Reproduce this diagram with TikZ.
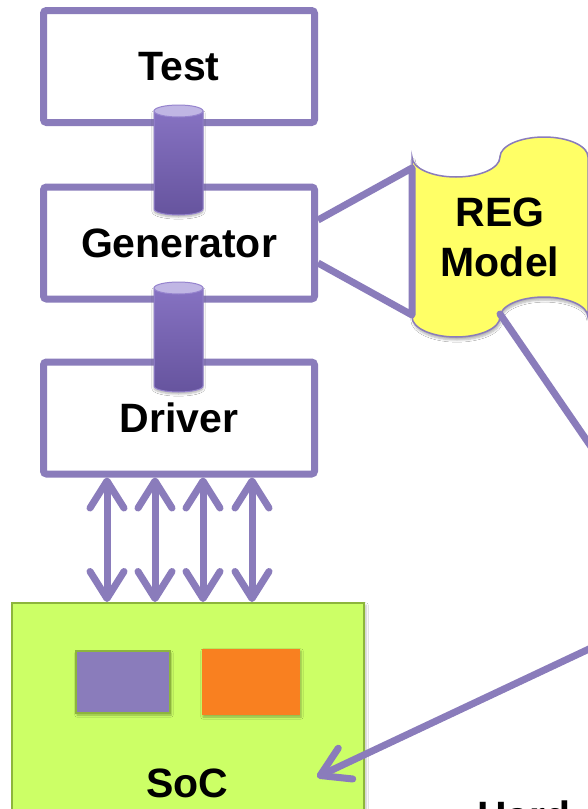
\documentclass[tikz,border=0pt]{standalone}
\usepackage{fontspec}
\setmainfont{Liberation Sans}
\usetikzlibrary{arrows.meta,shadows,shadows.blur}

\definecolor{vpurple}{RGB}{138,124,187}
\definecolor{pipetop}{RGB}{134,114,194}
\definecolor{pipebot}{RGB}{102,84,158}
\definecolor{pipeedge}{RGB}{150,132,206}
\definecolor{pipecap}{RGB}{192,182,228}
\definecolor{regyellow}{RGB}{255,255,102}
\definecolor{socgreen}{RGB}{204,255,102}
\definecolor{socedge}{RGB}{141,181,60}
\definecolor{corepurple}{RGB}{138,124,187}
\definecolor{iporange}{RGB}{249,128,32}

\newcommand\bigfont{\bfseries\fontsize{41pt}{50pt}\selectfont}

% a data pipe between two blocks: x centre, top y, bottom y (y measured downward)
\newcommand\linkpipe[3]{%
  \shade[top color=pipetop, bottom color=pipebot, draw=pipeedge, line width=1pt,
         blur shadow={shadow xshift=0pt, shadow yshift=-2pt, shadow opacity=30, shadow blur steps=6}]
    ({#1-24.5},{-(#2+6)}) -- ({#1-24.5},{-(#3-6)})
    arc[start angle=180, end angle=360, x radius=24.5pt, y radius=6pt]
    -- ({#1+24.5},{-(#2+6)}) -- cycle;
  \draw[pipeedge, fill=pipecap, line width=1pt] (#1,{-(#2+6)}) ellipse[x radius=24.5pt, y radius=6pt];
}

\tikzset{
  blockbox/.style={draw=vpurple, line width=7pt, rounded corners=3pt, fill=white,
    minimum width=271pt, minimum height=112pt, inner sep=0pt, font=\bigfont},
  bigtext/.style={font=\bigfont, text=black, inner sep=0pt},
  link/.style={draw=vpurple, line width=7pt, line cap=round, line join=round},
  softshadow/.style={preaction={draw=black, opacity=0.13,
    transform canvas={shift={(1.5pt,-2.5pt)}}}},
  buslink/.style={link, softshadow, {Straight Barb[length=27pt, width=34pt, round]}-{Straight Barb[length=27pt, width=34pt, round]}},
  chip/.style={inner sep=0pt, blur shadow={shadow xshift=1pt, shadow yshift=-2pt, shadow opacity=30, shadow blur steps=5}},
}

\begin{document}
\begin{tikzpicture}[x=1pt, y=1pt]
  \useasboundingbox (0,0) rectangle (587,-809);
  \fill[white] (0,0) rectangle (587,-809);

  % verification stack
  \node[blockbox] (test) at (179,-66.5) {Test};
  \node[blockbox] (gen)  at (179,-243) {Generator};
  \node[blockbox] (drv)  at (179,-418) {Driver};

  \linkpipe{178.5}{105}{215}
  \linkpipe{178.5}{282}{392}
  \coordinate (pipeA) at (178.5,-160);
  \coordinate (pipeB) at (178.5,-337);

  % register model (punched tape outline)
  \draw[draw=vpurple, line width=1.5pt, fill=regyellow,
        blur shadow={shadow xshift=1pt, shadow yshift=-3pt, shadow opacity=30, shadow blur steps=6}]
    (412,-157) arc[start angle=180, end angle=360, x radius=44pt, y radius=20pt]
    arc[start angle=180, end angle=0, x radius=44pt, y radius=20pt]
    -- (588,-317)
    arc[start angle=0, end angle=180, x radius=44pt, y radius=20pt]
    arc[start angle=0, end angle=-180, x radius=44pt, y radius=20pt]
    -- cycle;
  \node[bigtext, align=center] (reg) at (500,-237.5) {REG\\Model};

  % callout from the generator to the register model
  \coordinate (calloutA) at (412,-168);
  \coordinate (calloutB) at (412,-315);
  \draw[link, line cap=butt] (gen.east |- 0,-220) -- (calloutA) -- (calloutB) -- (gen.east |- 0,-263);

  % system on chip
  \node[draw=socedge, line width=2pt, fill=socgreen, minimum width=352pt, minimum height=240pt,
        inner sep=0pt, anchor=north west,
        blur shadow={shadow xshift=2pt, shadow yshift=-2pt, shadow opacity=25, shadow blur steps=5}]
        (soc) at (11,-602) {};
  \node[chip, fill=corepurple, draw=socedge, line width=2pt, minimum width=94pt, minimum height=62pt]
        (core) at (123,-682) {};
  \node[chip, fill=iporange, minimum width=98pt, minimum height=66pt] (ip) at (251,-682) {};
  \node[bigtext] (soclabel) at (187.5,-783) {SoC};

  % bus between driver and SoC
  \foreach \bx in {107,155,203,252}
    \draw[buslink] (\bx,0 |- drv.south) -- (\bx,0 |- soc.north);

  % register model access path
  \coordinate (regfoot) at (500,-314);
  \coordinate (offA) at (640,-518);
  \coordinate (offB) at (640,-625);
  \coordinate (socin) at (317,-777);
  \draw[link, softshadow] (regfoot) -- (offA);
  \draw[link, softshadow, -{Straight Barb[length=28pt, width=34pt, round]}] (offB) -- (socin);

  \node[bigtext, anchor=base west] (hw) at (477,-830) {Hard};
\end{tikzpicture}
\end{document}
